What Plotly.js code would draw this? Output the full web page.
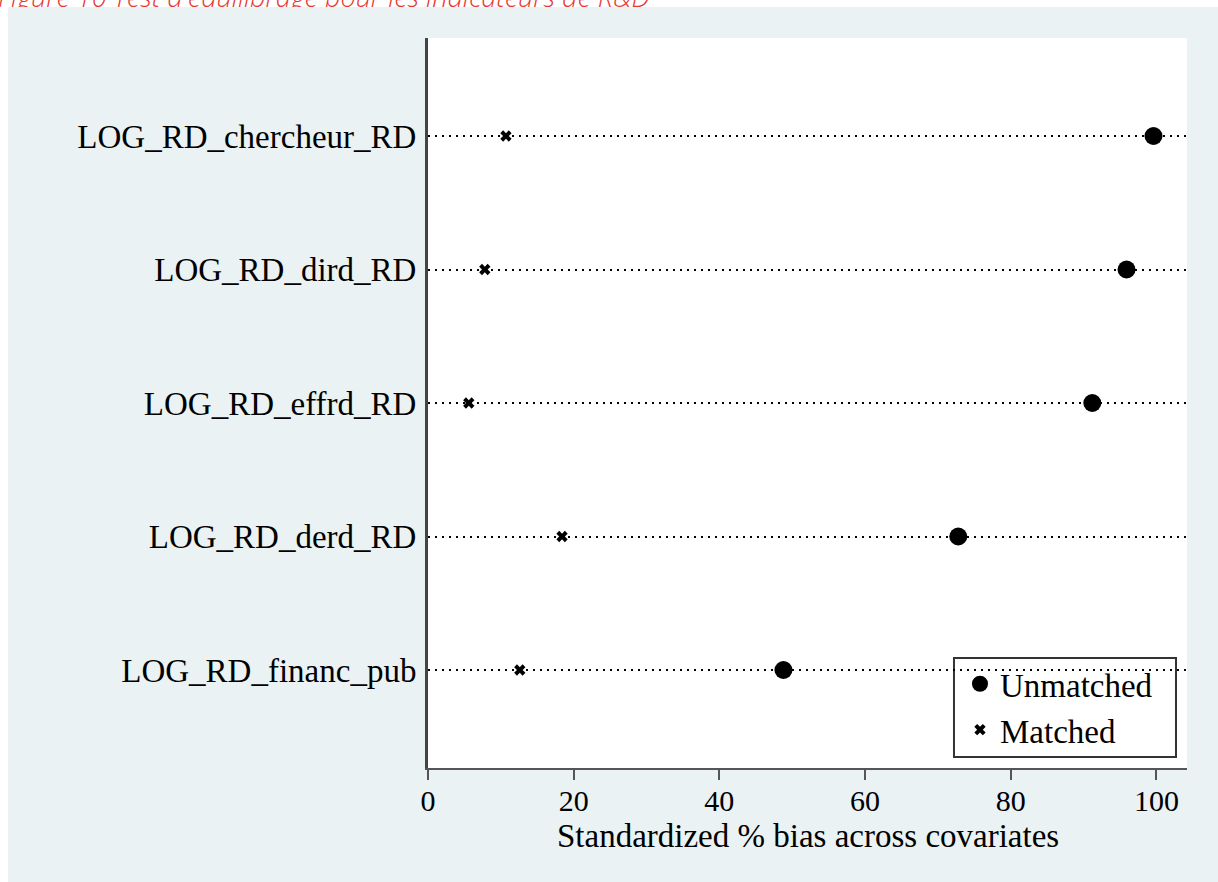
<!DOCTYPE html>
<html>
<head>
<meta charset="utf-8">
<script src="https://cdn.plot.ly/plotly-3.0.1.min.js"></script>
<style>
  html, body { margin: 0; padding: 0; background: #ffffff; width: 1218px; height: 882px; overflow: hidden; }
  #caption {
    position: absolute; left: -2px; top: -17px; z-index: 1;
    font-family: "Open Sans", sans-serif; font-style: italic; font-weight: 300;
    font-size: 27px; line-height: 27px; color: #e53935; white-space: nowrap;
  }
  #chart { position: absolute; left: 8px; top: 7px; width: 1210px; height: 875px; z-index: 2; }
</style>
</head>
<body>
<div id="caption">Figure 10 Test d'équilibrage pour les indicateurs de R&amp;D</div>
<div id="chart"></div>
<script>
// Covariates (top to bottom as displayed)
const covariates = ['LOG_RD_chercheur_RD', 'LOG_RD_dird_RD', 'LOG_RD_effrd_RD', 'LOG_RD_derd_RD', 'LOG_RD_financ_pub'];
// Standardized % bias, before matching
const unmatched = [99.6, 95.9, 91.2, 72.8, 48.8];
// Standardized % bias, after matching
const matched = [10.7, 7.8, 5.6, 18.4, 12.6];
// X axis ticks
const xTicks = [0, 20, 40, 60, 80, 100];
const xTitle = 'Standardized % bias across covariates';
const seriesNames = ['Unmatched', 'Matched'];

const FONT = '"Liberation Serif", "DejaVu Serif", serif';

const traces = [
  {
    type: 'scatter', mode: 'markers', name: seriesNames[0],
    x: unmatched, y: covariates,
    marker: { symbol: 'circle', size: 18, color: '#000000' },
    cliponaxis: false
  },
  {
    type: 'scatter', mode: 'markers', name: seriesNames[1],
    x: matched, y: covariates,
    marker: { symbol: 'x', size: 10, color: '#000000', line: { width: 0 } },
    cliponaxis: false
  }
];

const layout = {
  width: 1210, height: 875,
  paper_bgcolor: '#eaf2f3',
  plot_bgcolor: '#ffffff',
  margin: { l: 420, r: 31, t: 31, b: 114 },
  font: { family: FONT, size: 33, color: '#000000' },
  showlegend: true,
  legend: {
    x: 0.7009, xanchor: 'left', y: 0.014, yanchor: 'bottom',
    bgcolor: 'rgba(0,0,0,0)', borderwidth: 0,
    font: { family: FONT, size: 33, color: '#000000' },
    tracegroupgap: 0
  },
  // legend frame (white box with dark border, hiding the dotted line behind it)
  shapes: [
    {
      type: 'rect', xref: 'paper', yref: 'paper',
      x0: 0.6930, x1: 0.9855, y0: 0.0151, y1: 0.1507,
      fillcolor: '#ffffff', line: { color: '#333333', width: 2 },
      layer: 'between'
    }
  ],
  xaxis: {
    range: [0, 104.2],
    tickvals: xTicks, ticktext: xTicks.map(String),
    ticks: 'outside', ticklen: 10, tickwidth: 2, tickcolor: '#555555',
    ticklabelstandoff: -5,
    showline: true, linecolor: '#555555', linewidth: 2,
    showgrid: false, zeroline: false,
    tickfont: { family: FONT, size: 30, color: '#000000' }
  },
  yaxis: {
    type: 'category',
    categoryorder: 'array', categoryarray: covariates.slice().reverse(),
    range: [-0.734, 4.734],
    ticks: '', ticklabelstandoff: 2,
    showline: true, linecolor: '#444444', linewidth: 3,
    showgrid: true, gridcolor: '#000000', gridwidth: 2, griddash: '2px,5px',
    zeroline: false,
    tickfont: { family: FONT, size: 33, color: '#000000' }
  },
  annotations: [
    {
      text: xTitle, xref: 'paper', yref: 'paper', x: 0.5, y: -0.0935,
      xanchor: 'center', yanchor: 'middle', showarrow: false,
      font: { family: FONT, size: 33, color: '#000000' }
    }
  ]
};

Plotly.newPlot('chart', traces, layout, { displayModeBar: false, staticPlot: true });
</script>
</body>
</html>
